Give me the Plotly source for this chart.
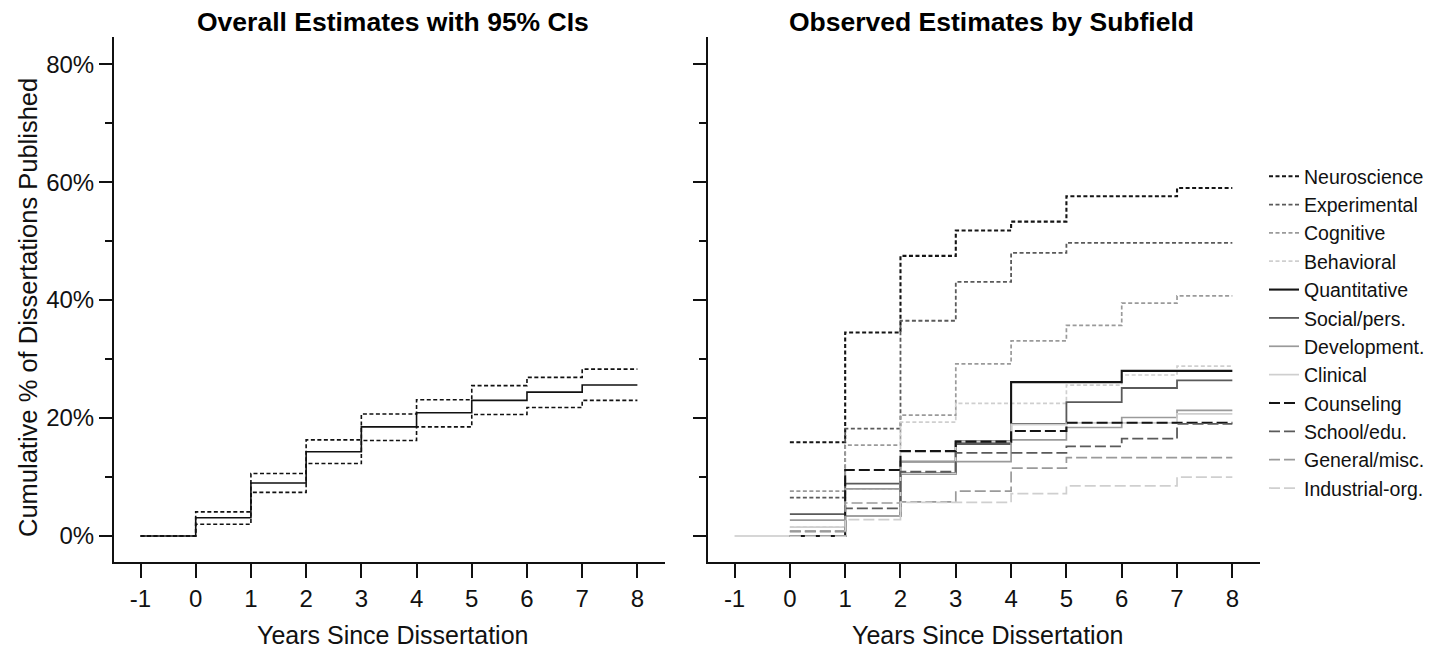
import plotly.graph_objects as go

# ---------------- data ----------------
years = [-1, 0, 1, 2, 3, 4, 5, 6, 7, 8]

# Left panel: overall estimate and 95% CI (value for each yearly interval starting at -1 .. 7)
overall_est = [0, 3.1, 9.0, 14.3, 18.5, 20.9, 23.0, 24.4, 25.6]
overall_upper = [0, 4.1, 10.6, 16.3, 20.7, 23.1, 25.5, 26.9, 28.3]
overall_lower = [0, 2.0, 7.4, 12.3, 16.2, 18.5, 20.6, 21.8, 23.0]

# Right panel: observed estimates by subfield (intervals starting at 0 .. 7)
sub_years = [0, 1, 2, 3, 4, 5, 6, 7, 8]
baseline_years = [-1, 0]
baseline_values = [0, 0]

subfields = ["Neuroscience", "Experimental", "Cognitive", "Behavioral",
             "Quantitative", "Social/pers.", "Development.", "Clinical",
             "Counseling", "School/edu.", "General/misc.", "Industrial-org."]

neuroscience = [15.9, 34.5, 47.5, 51.8, 53.3, 57.6, 57.6, 59.0]
experimental = [6.5, 18.2, 36.5, 43.1, 48.0, 49.7, 49.7, 49.7]
cognitive = [7.6, 15.4, 20.5, 29.2, 33.1, 35.7, 39.5, 40.7]
behavioral = [1.5, 8.0, 19.3, 22.5, 22.5, 25.6, 27.3, 28.8]
quantitative = [0.0, 3.4, 10.6, 16.0, 26.1, 26.1, 28.0, 28.0]
social = [3.7, 8.9, 12.6, 15.6, 19.0, 22.7, 25.1, 26.4]
development = [2.7, 8.0, 12.6, 12.6, 16.3, 18.4, 20.1, 21.3]
clinical = [1.5, 3.4, 10.6, 16.0, 18.9, 19.2, 19.2, 20.7]
counseling = [0.0, 11.2, 14.4, 16.0, 17.8, 19.2, 19.2, 19.2]
school = [0.8, 4.7, 10.9, 14.1, 14.1, 15.2, 16.5, 19.0]
general = [0.8, 5.6, 5.8, 7.6, 11.5, 13.3, 13.3, 13.3]
industrial = [0.0, 2.8, 5.7, 5.7, 7.2, 8.5, 8.5, 10.0]

sub_values = [neuroscience, experimental, cognitive, behavioral,
              quantitative, social, development, clinical,
              counseling, school, general, industrial]

x_ticks = [-1, 0, 1, 2, 3, 4, 5, 6, 7, 8]
x_ticklabels = ["-1", "0", "1", "2", "3", "4", "5", "6", "7", "8"]
y_ticks = [0, 20, 40, 60, 80]
y_ticklabels = ["0%", "20%", "40%", "60%", "80%"]

# ---------------- styles ----------------
FONT = "Liberation Sans, Arial, sans-serif"
shades = ["#151515", "#5a5a5a", "#9a9a9a", "#cfcfcf"]
widths = [2.1, 1.8, 1.7, 1.7]
SHORT = "4px,2.5px"
LONG = "11px,4px"
dashes = [SHORT] * 4 + ["solid"] * 4 + [LONG] * 4


def steps(vals):
    return list(vals) + [vals[-1]]


fig = go.Figure()

# Left panel
for vals, dash in [(overall_upper, SHORT), (overall_lower, SHORT), (overall_est, "solid")]:
    fig.add_trace(go.Scatter(x=years, y=steps(vals), mode="lines", line_shape="hv",
                             line=dict(color="#111111", width=1.6, dash=dash),
                             showlegend=False, xaxis="x", yaxis="y", hoverinfo="skip"))

# Right panel baseline segment
fig.add_trace(go.Scatter(x=baseline_years, y=baseline_values, mode="lines",
                         line=dict(color="#c8c8c8", width=1.5), showlegend=False,
                         xaxis="x2", yaxis="y2", hoverinfo="skip"))

for i, (name, vals) in enumerate(zip(subfields, sub_values)):
    fig.add_trace(go.Scatter(x=sub_years, y=steps(vals), mode="lines", line_shape="hv",
                             name=name,
                             line=dict(color=shades[i % 4], width=widths[i % 4], dash=dashes[i]),
                             xaxis="x2", yaxis="y2", hoverinfo="skip"))

# page offset (body margin of the html page)
OFF = 8
W, H = 1447 - OFF, 650 - OFF
L = 114 - OFF
T = 37 - OFF
R = W - (1260 - OFF)
B = H - (562 - OFF)
pw = W - L - R
ph = H - T - B


def px_x(p):
    return (p - OFF - L) / pw


def px_y(p):
    return (H - B - (p - OFF)) / ph


axis_common = dict(showline=True, linecolor="#111111", linewidth=2, ticks="outside",
                   tickcolor="#111111", tickwidth=2, showgrid=False, zeroline=False,
                   tickfont=dict(family=FONT, size=24, color="#111111"))

xr = [-1.48, 8.5]
yr = [-4.4, 84.6]

fig.update_layout(
    width=W, height=H,
    margin=dict(l=L, r=R, t=T, b=B),
    paper_bgcolor="white", plot_bgcolor="white",
    font=dict(family=FONT, color="#111111"),
    xaxis=dict(domain=[0, px_x(665)], range=xr, tickvals=x_ticks, ticktext=x_ticklabels,
               ticklen=14, **axis_common),
    xaxis2=dict(domain=[px_x(708), 1], range=xr, tickvals=x_ticks, ticktext=x_ticklabels,
                ticklen=14, **axis_common),
    yaxis=dict(domain=[0, 1], range=yr, tickvals=y_ticks, ticktext=y_ticklabels, ticklen=13,
               minor=dict(dtick=10, tick0=0, ticklen=7, tickwidth=2, tickcolor="#111111", ticks="outside"),
               anchor="x", **axis_common),
    yaxis2=dict(domain=[0, 1], range=yr, tickvals=y_ticks, ticktext=y_ticklabels, ticklen=13,
                showticklabels=False,
                minor=dict(dtick=10, tick0=0, ticklen=7, tickwidth=2, tickcolor="#111111", ticks="outside"),
                anchor="x2", **axis_common),
    legend=dict(x=px_x(1264), y=px_y(157), xanchor="left", yanchor="top",
                font=dict(family=FONT, size=19.5, color="#111111"),
                bgcolor="rgba(0,0,0,0)", itemwidth=30),
    annotations=[
        dict(text="<b>Overall Estimates with 95% CIs</b>", x=px_x(393), y=px_y(22), xref="paper", yref="paper",
             showarrow=False, font=dict(family=FONT, size=26.5, color="#000000"), xanchor="center", yanchor="middle"),
        dict(text="<b>Observed Estimates by Subfield</b>", x=px_x(991), y=px_y(22), xref="paper", yref="paper",
             showarrow=False, font=dict(family=FONT, size=26.5, color="#000000"), xanchor="center", yanchor="middle"),
        dict(text="Years Since Dissertation", x=px_x(392), y=px_y(635), xref="paper", yref="paper",
             showarrow=False, font=dict(family=FONT, size=25, color="#111111"), xanchor="center", yanchor="middle"),
        dict(text="Years Since Dissertation", x=px_x(987), y=px_y(635), xref="paper", yref="paper",
             showarrow=False, font=dict(family=FONT, size=25, color="#111111"), xanchor="center", yanchor="middle"),
        dict(text="Cumulative % of Dissertations Published", x=px_x(28), y=px_y(308), xref="paper", yref="paper",
             showarrow=False, textangle=-90, font=dict(family=FONT, size=25.5, color="#111111"),
             xanchor="center", yanchor="middle"),
    ],
)

fig.write_html("out.html")
